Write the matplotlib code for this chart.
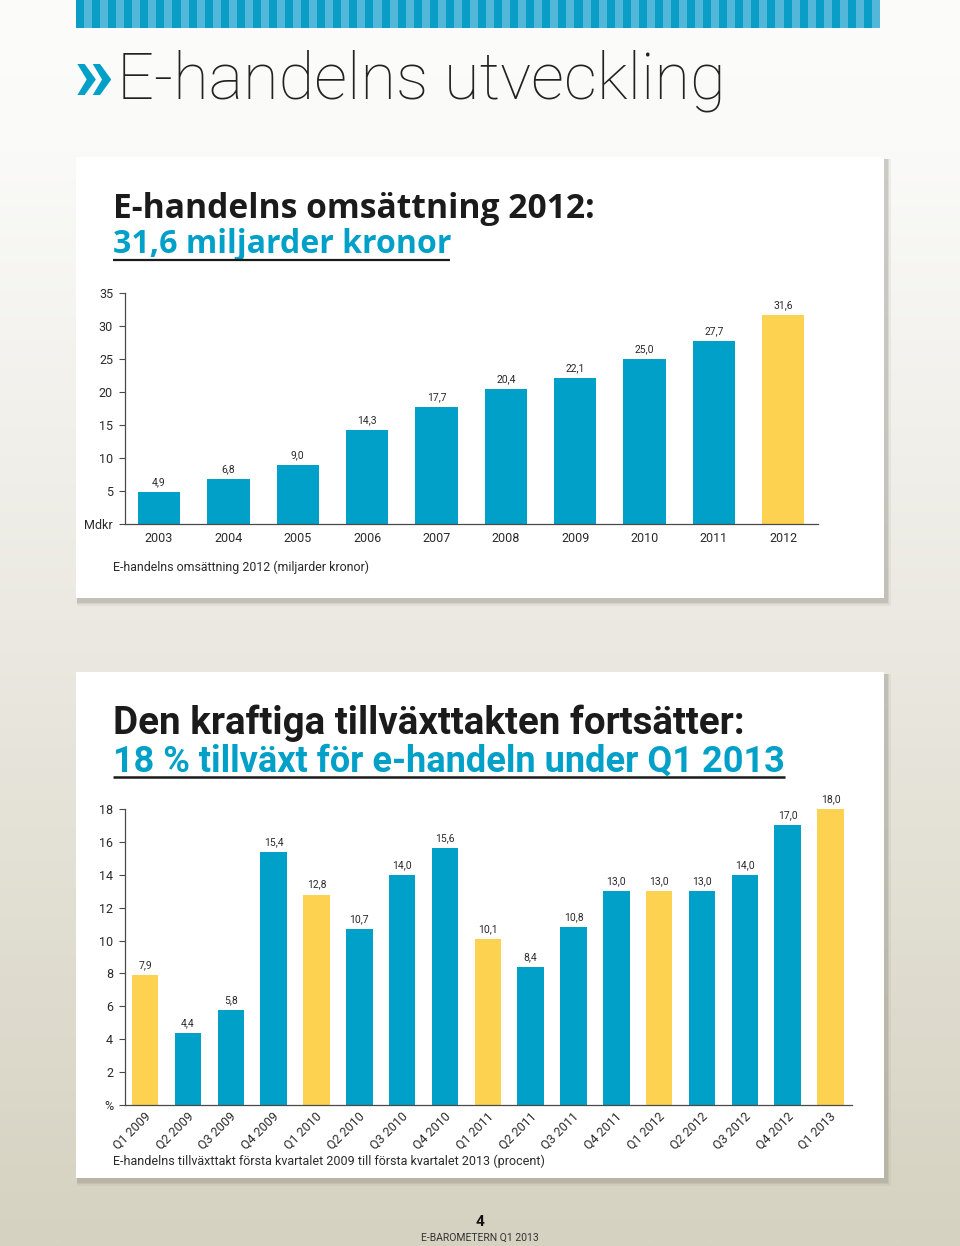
import matplotlib
matplotlib.use("Agg")
import matplotlib.pyplot as plt
import numpy as np
from matplotlib.patches import Rectangle
from matplotlib.transforms import ScaledTranslation

# ---------------- data ----------------
years = ["2003", "2004", "2005", "2006", "2007", "2008", "2009", "2010", "2011", "2012"]
turnover = [4.9, 6.8, 9.0, 14.3, 17.7, 20.4, 22.1, 25.0, 27.7, 31.6]
turnover_ticks = [0, 5, 10, 15, 20, 25, 30, 35]
turnover_ticklabels = ["Mdkr", "5", "10", "15", "20", "25", "30", "35"]

quarters = ["Q1 2009", "Q2 2009", "Q3 2009", "Q4 2009",
            "Q1 2010", "Q2 2010", "Q3 2010", "Q4 2010",
            "Q1 2011", "Q2 2011", "Q3 2011", "Q4 2011",
            "Q1 2012", "Q2 2012", "Q3 2012", "Q4 2012",
            "Q1 2013"]
growth = [7.9, 4.4, 5.8, 15.4, 12.8, 10.7, 14.0, 15.6, 10.1, 8.4, 10.8,
          13.0, 13.0, 13.0, 14.0, 17.0, 18.0]
growth_ticks = [0, 2, 4, 6, 8, 10, 12, 14, 16, 18]
growth_ticklabels = ["%", "2", "4", "6", "8", "10", "12", "14", "16", "18"]

BLUE = "#00a0c8"
YELLOW = "#fdd250"
DARK = "#2a2a2a"
AXC = "#4a4a4a"
BODY = ["Roboto", "DejaVu Sans"]
TITLE1 = ["Open Sans", "DejaVu Sans"]
TITLE2 = ["Roboto", "DejaVu Sans"]

W, H = 960, 1246
fig = plt.figure(figsize=(9.6, 12.46), dpi=100)

# ---------------- background layer (pixel coordinates) ----------------
bg = fig.add_axes([0, 0, 1, 1], zorder=-1)
ys = np.linspace(0, H, 500)
sy = [0, 150, 650, 1246]
sc = [(252, 252, 251), (250, 250, 248), (234, 232, 224), (214, 210, 193)]
grad = np.stack([np.interp(ys, sy, [c[i] for c in sc]) for i in range(3)], axis=-1) / 255.0
bg.imshow(grad[:, None, :], extent=(0, W, H, 0), aspect="auto", zorder=0, interpolation="bilinear")
bg.set_xlim(0, W)
bg.set_ylim(H, 0)
bg.axis("off")

# header stripe
bg.add_patch(Rectangle((76, 0), 804, 28, color="#52b7d8", lw=0, zorder=1))
period = 804 / 50
for k in range(50):
    bg.add_patch(Rectangle((76 + k * period, 0), period * 0.5, 28, color="#0a9ec7", lw=0, zorder=1))


def card(x0, y0, x1, y1):
    for d, a in [(6, 0.10), (4, 0.15), (2.5, 0.22)]:
        bg.add_patch(Rectangle((x0 + 1, y0 + 2), (x1 - x0) + d, (y1 - y0) + d,
                               color="#8a877c", alpha=a, lw=0, zorder=2))
    bg.add_patch(Rectangle((x0, y0), x1 - x0, y1 - y0, color="white", lw=0, zorder=3))


card(76, 157, 884, 598)
card(76, 672, 884, 1178)

renderer = fig.canvas.get_renderer()


def fit(t, target_w):
    bb = t.get_window_extent(renderer)
    t.set_fontsize(t.get_fontsize() * target_w / bb.width)
    return t


# header
fit(bg.text(74, 100, "»", color=BLUE, fontsize=60, fontweight="bold", family=TITLE2,
            va="baseline", ha="left", zorder=5), 40)
fit(bg.text(117, 98, "E-handelns utveckling", color="#222222", fontsize=50,
            fontweight=100, family=["Roboto", "Lato", "DejaVu Sans"],
            va="baseline", ha="left", zorder=5), 610)

# card 1 titles
fit(bg.text(113, 218, "E-handelns omsättning 2012:", color="#1b1b1b", fontsize=22,
            fontweight="bold", family=TITLE1, va="baseline", zorder=5), 480)
fit(bg.text(113, 253, "31,6 miljarder kronor", color=BLUE, fontsize=22,
            fontweight="bold", family=TITLE1, va="baseline", zorder=5), 337)
bg.plot([113, 450], [260, 260], color="#1b1b1b", lw=1.6, zorder=5, solid_capstyle="butt")
fit(bg.text(113, 567, "E-handelns omsättning 2012 (miljarder kronor)", color=DARK,
            fontsize=9, family=BODY, va="center", zorder=5), 258)

# card 2 titles
fit(bg.text(113, 734, "Den kraftiga tillväxttakten fortsätter:", color="#1b1b1b",
            fontsize=26, fontweight="bold", family=TITLE2, va="baseline", zorder=5), 631)
fit(bg.text(113, 772, "18 % tillväxt för e-handeln under Q1 2013", color=BLUE,
            fontsize=26, fontweight="bold", family=TITLE2, va="baseline", zorder=5), 672)
bg.plot([113, 785], [777, 777], color="#1b1b1b", lw=1.8, zorder=5, solid_capstyle="butt")
fit(bg.text(113, 1161, "E-handelns tillväxttakt första kvartalet 2009 till första kvartalet 2013 (procent)",
            color=DARK, fontsize=9, family=BODY, va="center", zorder=5), 434)

# footer
bg.text(480, 1222, "4", color="#111111", fontsize=11, fontweight="bold", family=BODY,
        ha="center", va="center", zorder=5)
fit(bg.text(480, 1238, "E-BAROMETERN Q1 2013", color="#333333", fontsize=7, family=BODY,
            ha="center", va="center", zorder=5), 118)


def fmt(v):
    return f"{v:.1f}".replace(".", ",")


def style_axes(ax):
    ax.set_facecolor("none")
    for s in ["top", "right"]:
        ax.spines[s].set_visible(False)
    for s in ["left", "bottom"]:
        ax.spines[s].set_color(AXC)
        ax.spines[s].set_linewidth(0.9)
    ax.tick_params(axis="y", length=4.3, width=0.8, color=AXC, pad=4.3,
                   labelsize=9, labelcolor=DARK)
    for lab in ax.get_yticklabels():
        lab.set_family(BODY)


# ---------------- chart 1 ----------------
ax1 = fig.add_axes([125 / W, 1 - 524 / H, (818 - 125) / W, (524 - 293) / H])
x1 = np.arange(len(years))
c1 = [YELLOW if i == len(years) - 1 else BLUE for i in range(len(years))]
ax1.bar(x1, turnover, width=0.61, color=c1, zorder=2)
ax1.set_xlim(-0.49, len(years) - 0.5)
ax1.set_ylim(0, 35)
ax1.set_yticks(turnover_ticks)
ax1.set_yticklabels(turnover_ticklabels)
ax1.set_xticks(x1)
ax1.set_xticklabels(years)
style_axes(ax1)
ax1.tick_params(axis="x", length=0, pad=5.5, labelsize=9, labelcolor=DARK)
for lab in ax1.get_xticklabels():
    lab.set_family(BODY)
for i, v in enumerate(turnover):
    ax1.annotate(fmt(v), (i, v), xytext=(0, 3.5), textcoords="offset points",
                 ha="center", va="bottom", fontsize=7.5, color=DARK, family=BODY)

# ---------------- chart 2 ----------------
ax2 = fig.add_axes([125 / W, 1 - 1105 / H, (852 - 125) / W, (1105 - 809) / H])
x2 = np.arange(len(quarters))
c2 = [YELLOW if q.startswith("Q1") else BLUE for q in quarters]
ax2.bar(x2, growth, width=0.62, color=c2, zorder=2)
ax2.set_xlim(-0.47, len(quarters) - 0.5)
ax2.set_ylim(0, 18)
ax2.set_yticks(growth_ticks)
ax2.set_yticklabels(growth_ticklabels)
ax2.set_xticks(x2)
ax2.set_xticklabels(quarters, rotation=45, ha="right", va="top")
style_axes(ax2)
ax2.tick_params(axis="x", length=0, pad=3.5, labelsize=9, labelcolor=DARK)
off = ScaledTranslation(8 / 100, 0, fig.dpi_scale_trans)
for lab in ax2.get_xticklabels():
    lab.set_family(BODY)
    lab.set_transform(lab.get_transform() + off)
for i, v in enumerate(growth):
    ax2.annotate(fmt(v), (i, v), xytext=(0, 3.5), textcoords="offset points",
                 ha="center", va="bottom", fontsize=7.5, color=DARK, family=BODY)

fig.savefig("out.png", dpi=100)
